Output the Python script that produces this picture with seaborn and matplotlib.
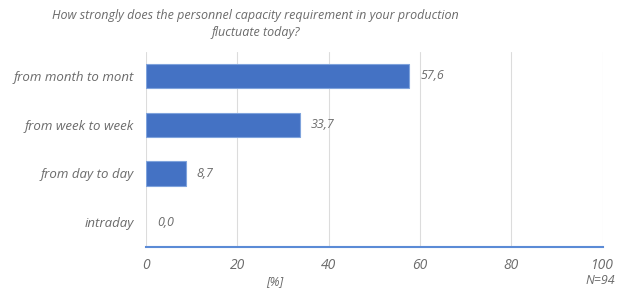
import matplotlib
matplotlib.use("Agg")
import matplotlib.pyplot as plt
import seaborn as sns
import pandas as pd

categories = ["from month to mont", "from week to week", "from day to day", "intraday"]
values = [57.6, 33.7, 8.7, 0.0]
value_labels = ["57,6", "33,7", "8,7", "0,0"]
xticks = [0, 20, 40, 60, 80, 100]
title = "How strongly does the personnel capacity requirement in your production\nfluctuate today?"

sns.set_theme(style="white")
plt.rcParams['font.family'] = ['Open Sans', 'DejaVu Sans']

df = pd.DataFrame({"cat": categories, "val": values})
fig = plt.figure(figsize=(6.24, 2.9), dpi=100)
ax = fig.add_axes([0.234, 0.150, 0.732, 0.672])

sns.barplot(data=df, x="val", y="cat", ax=ax, color="#4472C4", width=0.5,
            edgecolor="#7FA3DC", linewidth=0.8, saturation=1)
for p in ax.patches:
    if p.get_width() == 0:
        p.set_linewidth(0)

gray = "#6b6b6b"
ax.set_xlim(0, 100)
ax.set_ylim(3.5, -0.5)
ax.set_xticks(xticks)
ax.set_xticklabels([str(t) for t in xticks], fontstyle="italic", color=gray, fontsize=10)
ax.set_yticks(range(len(categories)))
ax.set_yticklabels(categories, fontstyle="italic", color=gray, fontsize=9.5)
ax.grid(axis="x", color="#dcdcdc", linewidth=0.8)
ax.set_axisbelow(True)
for s in ["top", "right", "left"]:
    ax.spines[s].set_visible(False)
ax.spines["bottom"].set_color("#5B8BD6")
ax.spines["bottom"].set_linewidth(1.5)
ax.tick_params(axis="x", direction="inout", length=5, width=1.2, color="#5B8BD6", pad=6)
ax.tick_params(axis="y", length=0, pad=9)
ax.set_xlabel("")
ax.set_ylabel("")

for i, (v, lab) in enumerate(zip(values, value_labels)):
    ax.annotate(lab, xy=(v, i), xytext=(8, 0), textcoords="offset points",
                va="center", ha="left", fontstyle="italic", color=gray, fontsize=9)

fig.text(0.41, 0.918, title, ha="center", va="center", fontstyle="italic",
         color=gray, fontsize=9, linespacing=1.4)
fig.text(0.44, 0.028, "[%]", ha="center", va="center", fontstyle="italic", color=gray, fontsize=9)
fig.text(0.962, 0.034, "N=94", ha="center", va="center", fontstyle="italic", color=gray, fontsize=9)

fig.savefig("out.png", dpi=100)
